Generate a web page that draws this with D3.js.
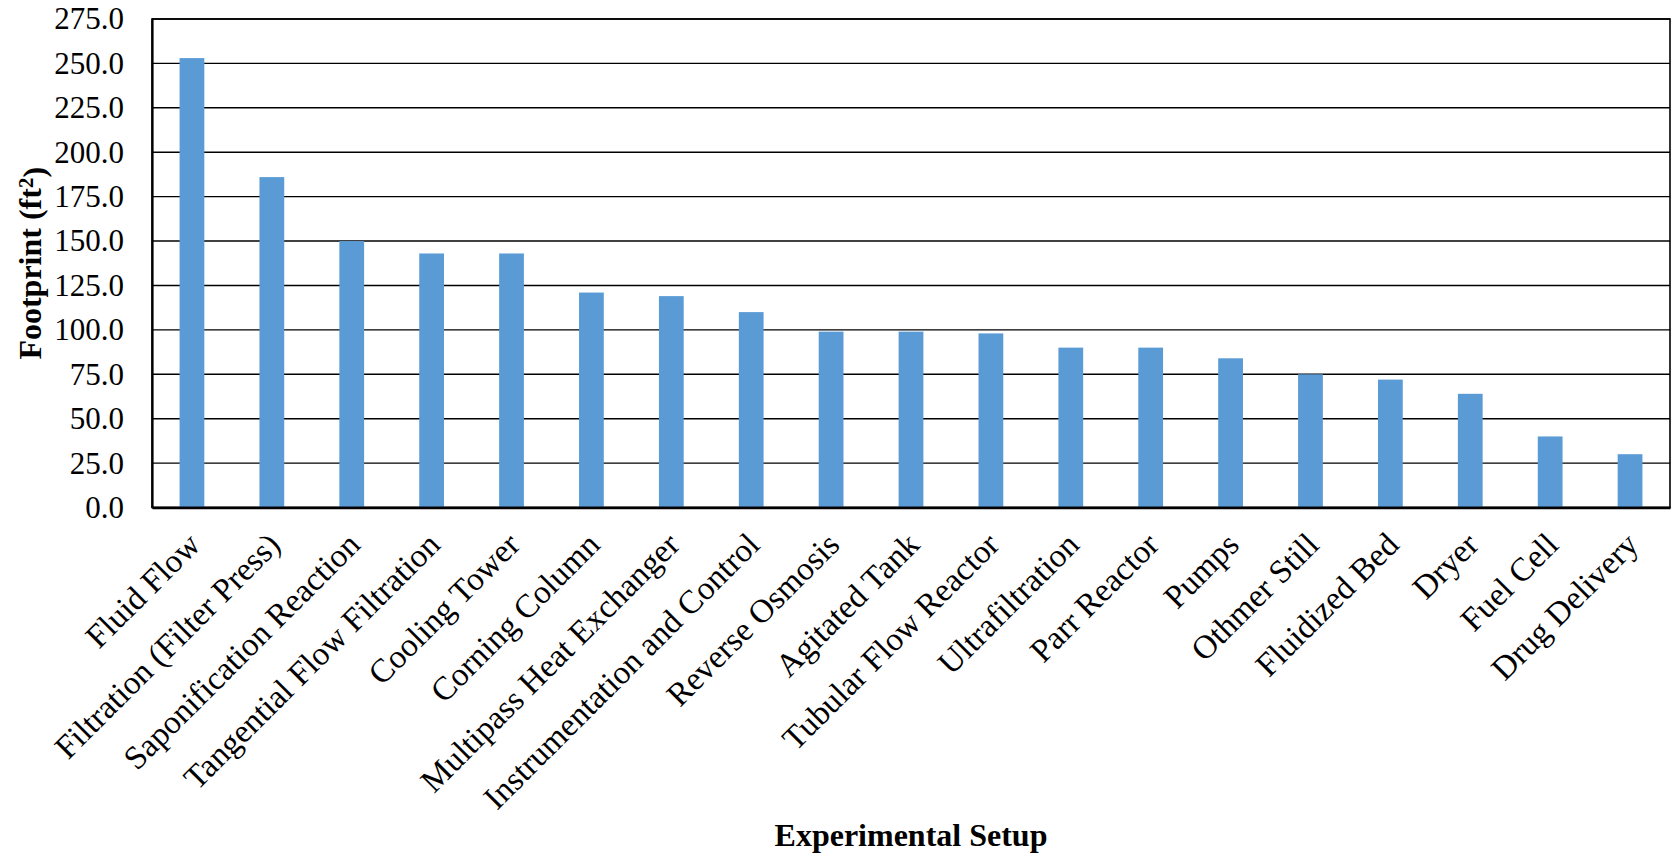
<!DOCTYPE html>
<html>
<head>
<meta charset="utf-8">
<script src="https://cdn.jsdelivr.net/npm/d3@7"></script>
<style>
  html, body { margin: 0; padding: 0; background: #ffffff; }
  svg { display: block; }
  text { font-family: "Liberation Serif", "Times New Roman", serif; fill: #000; }
</style>
</head>
<body>
<svg id="chart" width="1673" height="857"></svg>
<script>
// Footprint of each experimental setup, in square feet
const categories = [
  "Fluid Flow", "Filtration (Filter Press)", "Saponification Reaction",
  "Tangential Flow Filtration", "Cooling Tower", "Corning Column",
  "Multipass Heat Exchanger", "Instrumentation and Control", "Reverse Osmosis",
  "Agitated Tank", "Tubular Flow Reactor", "Ultrafiltration", "Parr Reactor",
  "Pumps", "Othmer Still", "Fluidized Bed", "Dryer", "Fuel Cell", "Drug Delivery"
];
const footprint = [253, 186, 150, 143, 143, 121, 119, 110, 99, 99, 98, 90, 90, 84, 75, 72, 64, 40, 30];
const yTicks = [0, 25, 50, 75, 100, 125, 150, 175, 200, 225, 250, 275];

const svg = d3.select("#chart");
const plot = { left: 152, right: 1670, top: 19, bottom: 507.5 };

const x = d3.scaleBand()
  .domain(categories)
  .range([plot.left, plot.right])
  .paddingInner(0.69)
  .paddingOuter(0.345);

const y = d3.scaleLinear()
  .domain([0, 275])
  .range([plot.bottom, plot.top]);

// horizontal gridlines
svg.append("g")
  .selectAll("line")
  .data(yTicks)
  .join("line")
  .attr("x1", plot.left)
  .attr("x2", plot.right)
  .attr("y1", d => y(d))
  .attr("y2", d => y(d))
  .attr("stroke", "#000")
  .attr("stroke-width", 1.4);

// bars
svg.append("g")
  .selectAll("rect")
  .data(categories)
  .join("rect")
  .attr("x", d => x(d))
  .attr("width", x.bandwidth())
  .attr("y", (d, i) => y(footprint[i]))
  .attr("height", (d, i) => y(0) - y(footprint[i]))
  .attr("fill", "#5B9BD5");

// plot frame
svg.append("rect")
  .attr("x", plot.left)
  .attr("y", plot.top)
  .attr("width", plot.right - plot.left)
  .attr("height", plot.bottom - plot.top)
  .attr("fill", "none")
  .attr("stroke", "#000")
  .attr("stroke-width", 1.6);

// y axis
const yAxis = d3.axisLeft(y)
  .tickValues(yTicks)
  .tickFormat(d3.format(".1f"))
  .tickSize(0)
  .tickPadding(28);
const gy = svg.append("g")
  .attr("transform", `translate(${plot.left},0)`)
  .call(yAxis);
gy.select(".domain").attr("stroke", "#000").attr("stroke-width", 2.2);
gy.selectAll("text")
  .style("font-family", "'Liberation Serif', 'Times New Roman', serif")
  .style("font-size", "31px")
  .attr("fill", "#000");

// x axis
const xAxis = d3.axisBottom(x).tickSize(0).tickPadding(0);
const gx = svg.append("g")
  .attr("transform", `translate(0,${plot.bottom})`)
  .call(xAxis);
gx.select(".domain").attr("stroke", "#000").attr("stroke-width", 2.6);
gx.selectAll(".tick text")
  .style("font-family", "'Liberation Serif', 'Times New Roman', serif")
  .style("font-size", "33px")
  .attr("fill", "#000")
  .attr("text-anchor", "end")
  .attr("y", 0)
  .attr("dy", "0.35em")
  .attr("transform", "translate(2,31) rotate(-45)");

// axis titles
svg.append("text")
  .attr("transform", `translate(41,${(plot.top + plot.bottom) / 2}) rotate(-90)`)
  .attr("text-anchor", "middle")
  .style("font-size", "32px")
  .style("font-weight", "bold")
  .call(t => {
    t.append("tspan").text("Footprint (ft");
    t.append("tspan").text("2").attr("dy", "-0.4em").style("font-size", "21px");
    t.append("tspan").text(")").attr("dy", "0.4em");
  });

svg.append("text")
  .attr("x", (plot.left + plot.right) / 2)
  .attr("y", 846)
  .attr("text-anchor", "middle")
  .style("font-size", "32px")
  .style("font-weight", "bold")
  .text("Experimental Setup");
</script>
</body>
</html>
